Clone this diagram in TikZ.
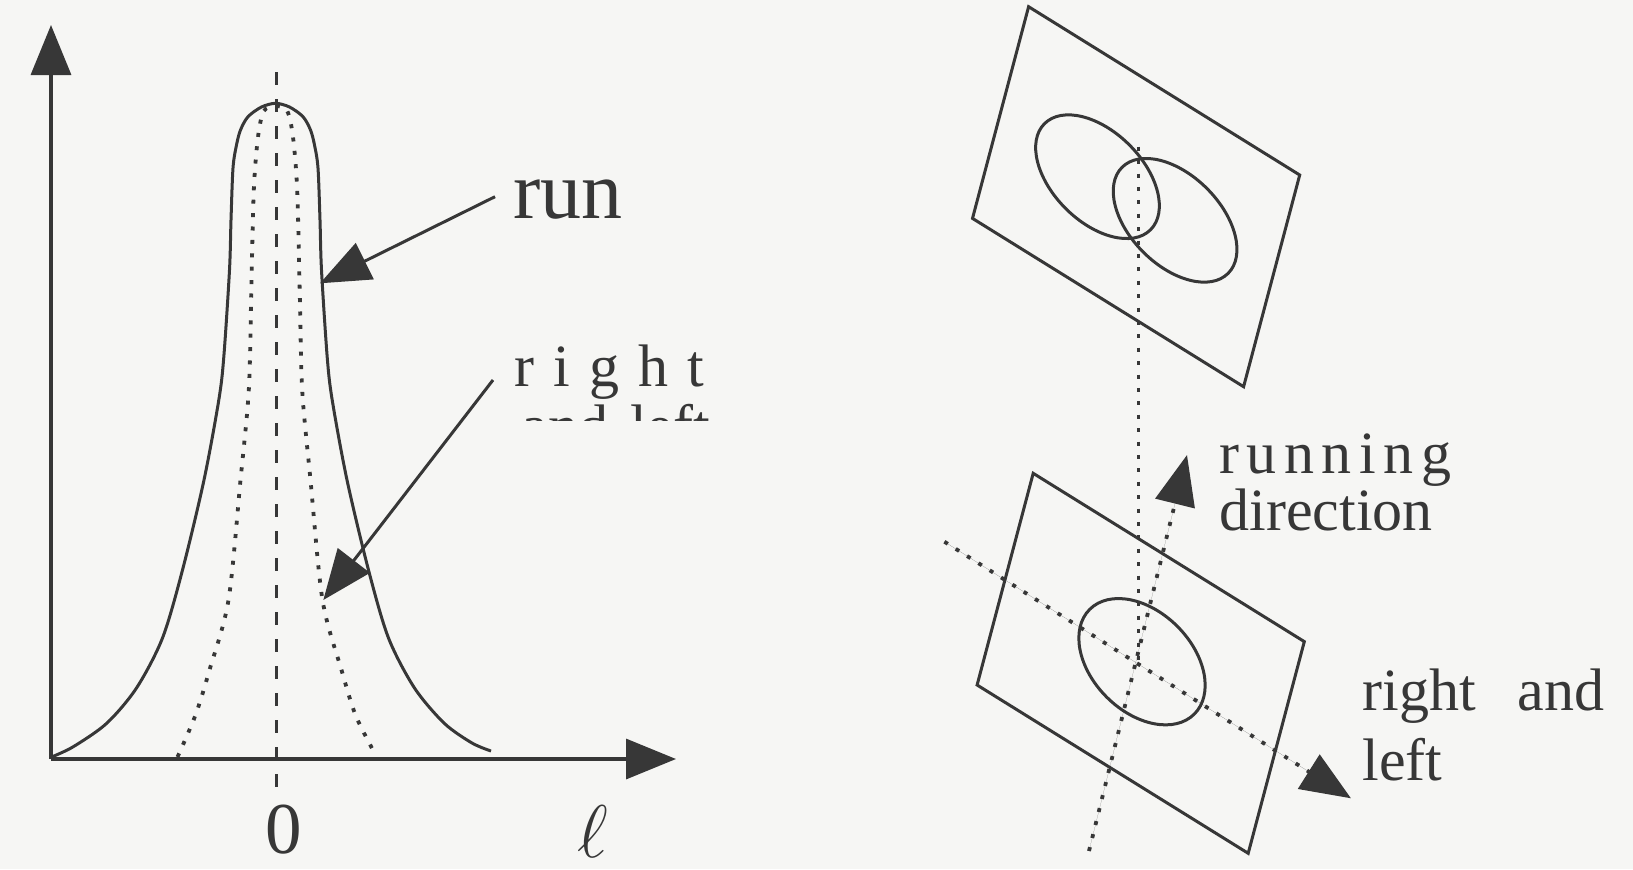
\documentclass[tikz,border=0pt]{standalone}
\usepackage{graphicx}
\usepackage{fontspec}
\setmainfont{Liberation Serif}
\usetikzlibrary{arrows.meta}
\definecolor{ink}{RGB}{55,55,55}
\definecolor{paper}{RGB}{246,246,244}
\begin{document}
\begin{tikzpicture}[x=0.5pt,y=-0.5pt,
  ln/.style={draw=ink, line width=1.5pt},
  axisln/.style={draw=ink, line width=1.7pt},
  tri/.style={-{Triangle[length=25pt,width=20pt]}, fill=ink},
  dotln/.style={draw=ink, line width=1.9pt, dash pattern=on 2pt off 4.7pt},
  dashln/.style={draw=ink, line width=1.6pt, dash pattern=on 6.5pt off 7pt},
  lbl/.style={inner sep=0pt, anchor=base west, text=ink},
  bigf/.style={font=\fontsize{41}{44}\selectfont},
  medf/.style={font=\fontsize{30}{34}\selectfont},
  axf/.style={font=\fontsize{36.5}{40}\selectfont}
]
\fill[paper] (0,0) rectangle (1633,869);
\useasboundingbox (0,0) rectangle (1633,869);

% ---------- left panel ----------
\coordinate (O) at (51,759);
\coordinate (ytip) at (51,25);
\coordinate (xtip) at (676,759);
\draw[axisln, tri] (O) -- (ytip);
\draw[axisln, tri] (O) -- (xtip);

\coordinate (ctop) at (276.7,72);
\coordinate (cbot) at (276.7,795);
\draw[dashln] (ctop) -- (cbot);

\draw[ln] plot[smooth, tension=0.5] coordinates {
 (51.5,757) (73.3,746.7) (106.7,723.3) (136.5,688) (162.5,638) (182.5,570)
 (204,480) (218.8,400) (223.8,357) (229.5,270) (231,220) (233,168)
 (236.5,145) (240.5,130) (248,116.7) (261.5,107) (275.5,103.3)
 (289.5,107) (303,116.7) (310.5,130) (314.5,145) (318,168) (320,220)
 (321.5,270) (327.2,357) (332.2,400) (347,480) (368.5,570) (388.5,638)
 (414.5,688) (444.3,723.3) (472,743) (491,751)};

\draw[dotln] plot[smooth, tension=0.5] coordinates {
 (177.5,757) (195.5,715) (209.5,670) (228.5,600) (240.5,480) (248.8,390)
 (251.3,290) (253.8,190) (258,137) (263.8,111) (275.5,106)
 (287.2,111) (293,137) (297.2,190) (299.7,290) (302.2,390) (310.5,480)
 (322.5,600) (341.5,670) (355.5,715) (373.5,751)};

\node[inner sep=0pt, anchor=base, text=ink, axf] (zero) at (283.3,853) {0};
\node[inner sep=0pt, anchor=base, text=ink, font=\fontsize{25}{28}\selectfont] (ell) at (593,857) {\scalebox{1.5}{$\ell$}};

\node[lbl, bigf] (run) at (513,218.3) {run};
\coordinate (runfrom) at (495,196.7);
\coordinate (runto) at (320,283.3);
\draw[ln, tri] (runfrom) -- (runto);

\node[lbl, medf] (right) at (514,386.7) {\addfontfeatures{LetterSpace=32}right};
\begin{scope}
  \clip (500,395) rectangle (720,420);
  \node[lbl, medf] (andleft) at (521,446) {and\hspace{11pt}left};
\end{scope}
\coordinate (rlfrom) at (493,380);
\coordinate (rlto) at (323.3,600);
\draw[ln, tri] (rlfrom) -- (rlto);

% ---------- right panel ----------
\draw[ln] (1028.6,6.7) -- ++(271.1,168.3) -- ++(-56.1,211.7) -- ++(-271.1,-168.3) -- cycle;
\draw[ln] (1033.2,473.3) -- ++(271.1,168.3) -- ++(-56.1,211.7) -- ++(-271.1,-168.3) -- cycle;

\draw[ln, rotate around={-45:(1097.5,176.7)}] (1097.5,176.7) ellipse [x radius=75, y radius=45];
\draw[ln, rotate around={-45:(1175.1,220.3)}] (1175.1,220.3) ellipse [x radius=75, y radius=45];
\draw[ln, rotate around={-45:(1142,661.7)}] (1142,661.7) ellipse [x radius=74, y radius=50];

\coordinate (vtop) at (1138.5,146.7);
\coordinate (vbot) at (1138.5,664);
\draw[dotln] (vtop) -- (vbot);

\coordinate (rdfrom) at (1089,851);
\coordinate (rdtip) at (1187,455);
\draw[dotln, tri] (rdfrom) -- (rdtip);

\coordinate (lrfrom) at (944.4,541.7);
\coordinate (lrtip) at (1351,798.3);
\draw[dotln, tri] (lrfrom) -- (lrtip);

\node[lbl, medf] (running) at (1219,473.3) {\addfontfeatures{LetterSpace=12.5}running};
\node[lbl, medf] (direction) at (1219,530) {direction};
\node[lbl, medf] (rightand) at (1362,710) {right\hspace{21pt}and};
\node[lbl, medf] (left) at (1362,780) {left};
\end{tikzpicture}
\end{document}
